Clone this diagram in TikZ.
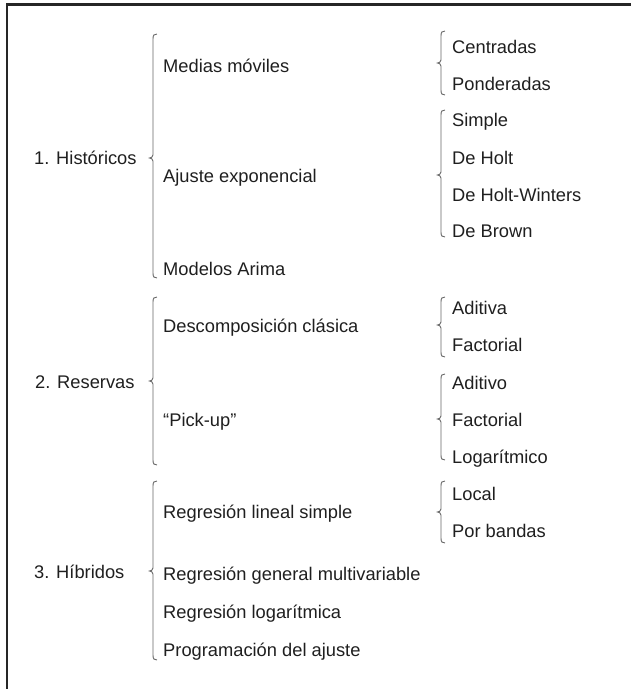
\documentclass[tikz,border=0pt]{standalone}
\usepackage{fontspec}
\setmainfont{Liberation Sans}
\begin{document}
\begin{tikzpicture}[x=1pt,y=-1pt,
  lbl/.style={anchor=base west,inner sep=0pt,text=black!88,font=\fontsize{18.3}{22}\selectfont},
  bracestyle/.style={draw=black!60,line width=0.9pt},
  framestyle/.style={draw=black!85,line width=2.6pt}]
\useasboundingbox (0,0) rectangle (631,689);
\newcommand\mybrace[4]{%
  \draw[bracestyle] (#1+4,#2) .. controls (#1+1,#2) and (#1,#2+1) .. (#1,#2+5)
    -- (#1,#3-3) .. controls (#1,#3-1) and (#1-2,#3) .. (#1-3.5,#3)
    .. controls (#1-2,#3) and (#1,#3+1) .. (#1,#3+3)
    -- (#1,#4-5) .. controls (#1,#4-1) and (#1+1,#4) .. (#1+4,#4);}
% frame
\draw[framestyle] (7,689) -- (7,4.5) -- (631,4.5);
% main braces
\mybrace{153}{34}{158}{278}
\mybrace{153}{297}{381}{465}
\mybrace{153}{481}{571}{660}
% sub braces
\mybrace{441}{31}{63}{95}
\mybrace{441}{110}{175}{237}
\mybrace{441}{297}{325}{357}
\mybrace{441}{374}{419}{460}
\mybrace{441}{481}{512}{543}
% level 1
\node[lbl] (h1) at (34,164) {1. Históricos};
\node[lbl] (h2) at (35,388) {2. Reservas};
\node[lbl] (h3) at (34,578) {3. Híbridos};
% level 2
\node[lbl] (m1) at (163,72) {Medias móviles};
\node[lbl] (m2) at (163,182) {Ajuste exponencial};
\node[lbl] (m3) at (163,275) {Modelos Arima};
\node[lbl] (m4) at (163,332) {Descomposición clásica};
\node[lbl] (m5) at (163,426) {“Pick-up”};
\node[lbl] (m6) at (163,518) {Regresión lineal simple};
\node[lbl] (m7) at (163,580) {Regresión general multivariable};
\node[lbl] (m8) at (163,618) {Regresión logarítmica};
\node[lbl] (m9) at (163,656) {Programación del ajuste};
% level 3
\node[lbl] (s1) at (452,53) {Centradas};
\node[lbl] (s2) at (452,90) {Ponderadas};
\node[lbl] (s3) at (452,126) {Simple};
\node[lbl] (s4) at (452,164) {De Holt};
\node[lbl] (s5) at (452,201) {De Holt-Winters};
\node[lbl] (s6) at (452,237) {De Brown};
\node[lbl] (s7) at (452,314) {Aditiva};
\node[lbl] (s8) at (452,351) {Factorial};
\node[lbl] (s9) at (452,389) {Aditivo};
\node[lbl] (s10) at (452,426) {Factorial};
\node[lbl] (s11) at (452,463) {Logarítmico};
\node[lbl] (s12) at (452,500) {Local};
\node[lbl] (s13) at (452,537) {Por bandas};
\end{tikzpicture}
\end{document}
